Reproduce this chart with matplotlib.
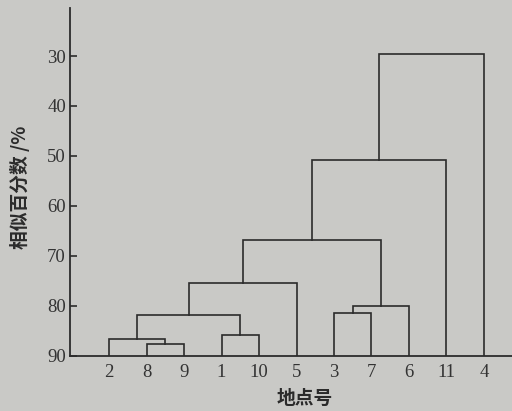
import matplotlib
matplotlib.use("Agg")
import matplotlib.pyplot as plt

# 叶子顺序（地点号）及合并过程（相似百分数）
leaves = ["2", "8", "9", "1", "10", "5", "3", "7", "6", "11", "4"]
# 每一步: (左簇, 右簇, 相似百分数)；簇用地点号或之前的合并序号 "m0".. 表示
merges = [
    ("8", "9", 87.6),
    ("2", "m0", 86.7),
    ("1", "10", 85.9),
    ("m1", "m2", 81.8),
    ("m3", "5", 75.4),
    ("3", "7", 81.5),
    ("m5", "6", 80.0),
    ("m4", "m6", 66.9),
    ("m7", "11", 50.8),
    ("m8", "4", 29.5),
]
yticks = [30, 40, 50, 60, 70, 80, 90]

BG = "#c9c9c6"
INK = "#2b2b2b"

fig = plt.figure(figsize=(5.12, 4.11), dpi=100, facecolor=BG)
ax = fig.add_axes([0.137, 0.134, 0.863, 0.8465])
ax.set_facecolor(BG)

# 位置与高度
pos = {name: i + 1 for i, name in enumerate(leaves)}
height = {name: 90.0 for name in leaves}

for k, (a, b, h) in enumerate(merges):
    xa, xb = pos[a], pos[b]
    ax.plot([xa, xa, xb, xb], [height[a], h, h, height[b]],
            color=INK, linewidth=1.2, solid_joinstyle="miter")
    pos["m%d" % k] = (xa + xb) / 2
    height["m%d" % k] = h

ax.set_xlim(-0.04, 11.75)
ax.set_ylim(90, 20.4)

ax.set_yticks(yticks)
ax.set_yticklabels([str(v) for v in yticks], family="Liberation Serif",
                   fontsize=13.5, color="#333333")
ax.set_xticks(range(1, len(leaves) + 1))
ax.set_xticklabels(leaves, family="Liberation Serif", fontsize=13.5, color="#333333")

ax.tick_params(axis="y", direction="in", length=5, width=1.2, color=INK, pad=3)
ax.tick_params(axis="x", length=0, pad=6)

for s in ["top", "right"]:
    ax.spines[s].set_visible(False)
for s in ["left", "bottom"]:
    ax.spines[s].set_color(INK)
    ax.spines[s].set_linewidth(1.3)

cjk = ["Noto Sans CJK SC", "DejaVu Sans"]
ax.set_xlabel("地点号", family=cjk, fontsize=13.5, fontweight="bold",
              color=INK, va="center", ha="center")
ax.xaxis.set_label_coords((305 - 70) / 442, -(399 - 356) / 348)
ax.set_ylabel("相似百分数 /%", family=cjk, fontsize=13.5, fontweight="bold",
              color=INK, va="center", ha="center")
ax.yaxis.set_label_coords((20 - 70) / 442, (356 - 187) / 348)

fig.savefig("out.png", dpi=100, facecolor=BG)
